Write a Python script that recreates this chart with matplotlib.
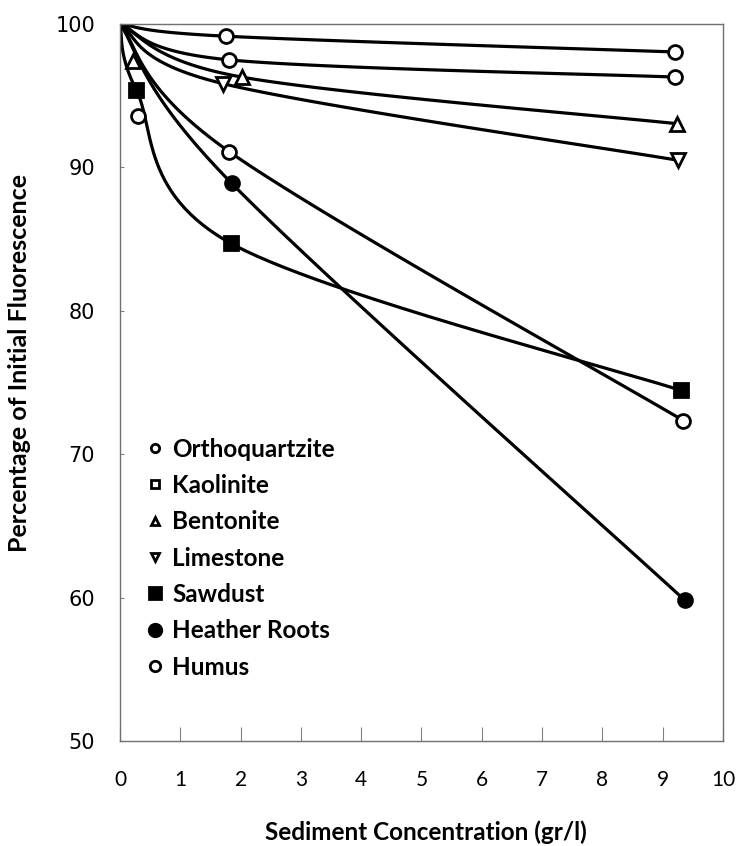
import numpy as np
import matplotlib
matplotlib.use('Agg')
import matplotlib.pyplot as plt
from matplotlib.lines import Line2D

# Sediment concentration (gr/l) and remaining fluorescence (%) for each material
names = ['Orthoquartzite', 'Kaolinite', 'Bentonite', 'Limestone',
         'Sawdust', 'Heather Roots', 'Humus']

ortho_x = [0, 1.75, 9.20]
ortho_y = [100, 99.15, 98.05]
kaol_x = [0, 1.81, 9.20]
kaol_y = [100, 97.5, 96.3]
bent_x = [0, 2.02, 9.23]
bent_y = [100, 96.3, 93.05]
lime_x = [0, 1.70, 9.25]
lime_y = [100, 95.85, 90.5]
saw_x = [0, 0.27, 1.84, 9.30]
saw_y = [100, 95.4, 84.7, 74.45]
heather_x = [0, 1.85, 9.37]
heather_y = [100, 88.9, 59.8]
humus_x = [0, 1.81, 9.34]
humus_y = [100, 91.1, 72.35]

# low-dose readings shown as markers only
low_bent_x, low_bent_y = [0.22], [97.4]
low_humus_x, low_humus_y = [0.30], [93.6]

x_ticks = list(range(0, 11))
y_ticks = [50, 60, 70, 80, 90, 100]


def smooth(xs, ys, n=60):
    # Bezier smoothing through the points (spreadsheet-style smoothed line)
    pts = np.column_stack([xs, ys]).astype(float)
    P = np.vstack([pts[0], pts, pts[-1]])
    t = np.linspace(0, 1, n)[:, None]
    out = []
    for i in range(1, len(P) - 2):
        p0, p1, p2, p3 = P[i - 1], P[i], P[i + 1], P[i + 2]
        c1 = p1 + (p2 - p0) / 6
        c2 = p2 - (p3 - p1) / 6
        seg = ((1 - t) ** 3) * p1 + 3 * ((1 - t) ** 2) * t * c1 \
            + 3 * (1 - t) * t ** 2 * c2 + t ** 3 * p2
        out.append(seg)
    out = np.vstack(out)
    return out[:, 0], out[:, 1]


series = [
    (ortho_x, ortho_y, 'o', 'white'),
    (kaol_x, kaol_y, 'o', 'white'),
    (bent_x, bent_y, '^', 'white'),
    (lime_x, lime_y, 'v', 'white'),
    (saw_x, saw_y, 's', 'black'),
    (heather_x, heather_y, 'o', 'black'),
    (humus_x, humus_y, 'o', 'white'),
]

fig = plt.figure(figsize=(7.36, 8.46), dpi=100)
ax = fig.add_axes([120 / 736, 1 - 741 / 846, 603 / 736, 717 / 846])

for xs, ys, m, fc in series:
    sx, sy = smooth(xs, ys)
    ax.plot(sx, sy, color='black', lw=2.3, zorder=2)
    ax.plot(xs[1:], ys[1:], ls='none', marker=m, ms=10.5 if m in '^v' else 10,
            mfc=fc, mec='black', mew=2, zorder=3)

ax.plot(low_bent_x, low_bent_y, ls='none', marker='^', ms=10.5, mfc='white',
        mec='black', mew=2, zorder=3)
ax.plot(low_humus_x, low_humus_y, ls='none', marker='o', ms=10, mfc='white',
        mec='black', mew=2, zorder=3)

ax.set_xlim(0, 10)
ax.set_ylim(50, 100)
ax.set_xticks(x_ticks)
ax.set_yticks(y_ticks)
ax.set_xticklabels([str(v) for v in x_ticks], family='Lato', fontsize=15)
ax.set_yticklabels([str(v) for v in y_ticks], family='DejaVu Sans', fontsize=15)
ax.tick_params(axis='x', direction='in', length=10, width=0.8, color='#808080', pad=21)
ax.tick_params(axis='y', direction='in', length=3, width=0.8, color='#808080', pad=18)
for sp in ax.spines.values():
    sp.set_color('#707070')
    sp.set_linewidth(1.0)

fig.text(426 / 736, 1 - 832 / 846, 'Sediment Concentration (gr/l)', family='Lato',
         fontsize=17.5, fontweight='bold', ha='center', va='center')
fig.text(20 / 736, 1 - 363 / 846, 'Percentage of Initial Fluorescence', family='Lato',
         fontsize=18, fontweight='bold', ha='center', va='center', rotation=90)

handles = []
leg_markers = [('o', 'white', 6), ('s', 'white', 6), ('^', 'white', 6),
               ('v', 'white', 6), ('s', 'black', 8), ('o', 'black', 9),
               ('o', 'white', 7.5)]
for (m, fc, ms), name in zip(leg_markers, names):
    handles.append(Line2D([], [], ls='none', marker=m, ms=ms, mfc=fc,
                          mec='black', mew=2, label=name))
ax.legend(handles=handles, loc='upper left', bbox_to_anchor=(0.018, 0.447),
          frameon=False, handlelength=0.6, handletextpad=0.4, borderpad=0.2,
          labelspacing=0.55, prop={'family': 'Lato', 'weight': 'bold', 'size': 17.5})

fig.savefig('out.png', dpi=100)
